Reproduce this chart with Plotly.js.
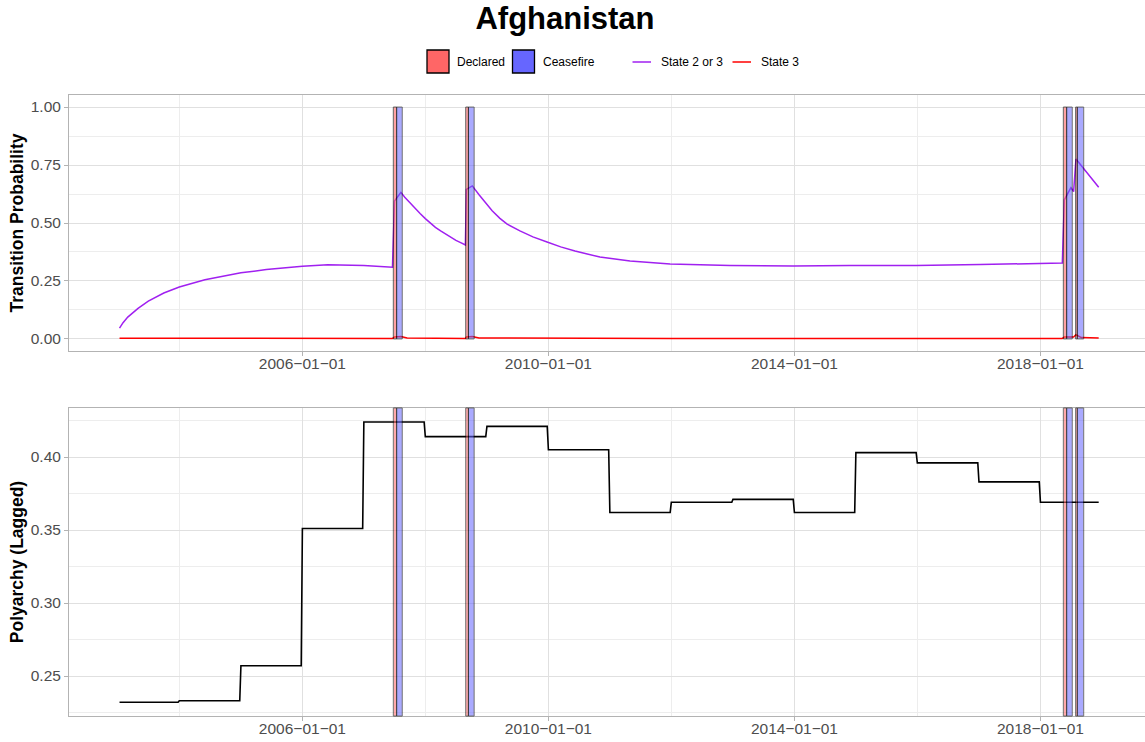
<!DOCTYPE html>
<html>
<head>
<meta charset="utf-8">
<script src="https://cdn.plot.ly/plotly-3.0.1.min.js"></script>
<style>html,body{margin:0;padding:0;background:#fff;}#chart{width:1145px;height:742px;}</style>
</head>
<body>
<div id="chart"></div>
<script>
// ---- data ----
const chartTitle = 'Afghanistan';

const stateDates = ['2003-01-11','2003-02-01','2003-03-01','2003-05-01','2003-07-01','2003-10-01','2004-01-01','2004-06-01','2005-01-01','2005-06-01','2006-01-01','2006-06-01','2007-01-01','2007-06-20',
  '2007-07-02','2007-08-09','2007-09-01','2007-10-01','2007-11-01','2007-12-01','2008-01-01','2008-02-01','2008-03-01','2008-04-01','2008-05-01','2008-06-01','2008-07-01','2008-08-01','2008-08-26',
  '2008-09-01','2008-10-06','2008-11-15','2009-01-01','2009-02-01','2009-03-19','2009-05-01','2009-07-16','2009-10-01','2009-12-24','2010-03-15','2010-06-08','2010-11-03','2011-05-01','2011-12-25',
  '2012-12-15','2013-12-25','2014-11-25','2015-12-25','2017-01-08','2017-12-25','2018-05-11','2018-05-23','2018-07-01','2018-07-17','2018-07-31','2018-12-13'];
const state23 = [0.047,0.070,0.094,0.132,0.163,0.198,0.224,0.255,0.285,0.299,0.314,0.320,0.317,0.309,
  0.595,0.632,0.611,0.587,0.563,0.541,0.519,0.499,0.481,0.466,0.452,0.438,0.425,0.414,0.405,
  0.645,0.660,0.622,0.580,0.553,0.520,0.495,0.466,0.440,0.418,0.397,0.379,0.353,0.336,0.323,
  0.317,0.315,0.317,0.317,0.321,0.325,0.327,0.600,0.652,0.635,0.776,0.654];

const state3Dates = ['2003-01-11','2006-01-01','2007-06-20','2007-07-02','2007-08-09','2007-09-15','2008-08-26','2008-09-01','2008-10-06','2008-11-15','2012-01-01','2018-05-11','2018-05-23','2018-07-17','2018-07-31','2018-09-01','2018-12-13'];
const state3 = [0.003,0.003,0.002,0.008,0.010,0.004,0.002,0.008,0.010,0.004,0.002,0.002,0.008,0.008,0.018,0.006,0.004];

const polyYears = [2003,2004,2005,2006,2007,2008,2009,2010,2011,2012,2013,2014,2015,2016,2017,2018];
const polyarchy = [0.232,0.233,0.257,0.351,0.424,0.414,0.421,0.405,0.362,0.369,0.371,0.362,0.403,0.396,0.383,0.369];
const seriesStart = '2003-01-11';
const seriesEnd = '2018-12-13';

const declaredStart = ['2007-06-25','2008-08-28','2018-05-17','2018-07-29'];
const declaredEnd   = ['2007-07-15','2008-09-13','2018-06-06','2018-08-08'];
const ceasefireStart = ['2007-07-15','2008-09-13','2018-06-06','2018-08-08'];
const ceasefireEnd   = ['2007-08-17','2008-10-17','2018-07-09','2018-09-15'];

const xTickVals = ['2006-01-01','2010-01-01','2014-01-01','2018-01-01'];
const xTickText = ['2006\u221201\u221201','2010\u221201\u221201','2014\u221201\u221201','2018\u221201\u221201'];
const xMinorVals = ['2004-01-01','2008-01-01','2012-01-01','2016-01-01'];
const yTopTicks = [0,0.25,0.5,0.75,1];
const yBotTicks = [0.25,0.30,0.35,0.40];

const legendLabels = ['Declared','Ceasefire','State 2 or 3','State 3'];

// ---- build ----
const W = 1145, H = 742;
const px = v => v / W;
const py = v => 1 - v / H;

const polyX = [], polyY = [];
polyYears.forEach((yr, i) => {
  polyX.push(i === 0 ? seriesStart : yr + '-01-01');
  polyY.push(polyarchy[i]);
  polyX.push(i === polyYears.length - 1 ? seriesEnd : yr + '-12-25');
  polyY.push(polyarchy[i]);
});

const FONT = 'Liberation Sans, Arial, sans-serif';
const DECL = '#FF6666', CEAS = '#6666FF', PURPLE = '#A020F0', RED = '#FF0000';

const traces = [
  {x: stateDates, y: state23, type: 'scatter', mode: 'lines', name: legendLabels[2],
   line: {color: PURPLE, width: 1.5}, xaxis: 'x', yaxis: 'y', showlegend: false},
  {x: state3Dates, y: state3, type: 'scatter', mode: 'lines', name: legendLabels[3],
   line: {color: RED, width: 1.5}, xaxis: 'x', yaxis: 'y', showlegend: false},
  {x: polyX, y: polyY, type: 'scatter', mode: 'lines', name: 'Polyarchy',
   line: {color: '#000000', width: 1.6}, xaxis: 'x2', yaxis: 'y2', showlegend: false}
];

const shapes = [];
function addRects(starts, ends, color, opTop) {
  starts.forEach((s, i) => {
    shapes.push({type: 'rect', xref: 'x', yref: 'y', x0: s, x1: ends[i], y0: 0, y1: 1,
      fillcolor: color, opacity: opTop, line: {color: '#000', width: 1}, layer: 'above'});
    shapes.push({type: 'rect', xref: 'x2', yref: 'y2 domain', x0: s, x1: ends[i], y0: 0, y1: 1,
      fillcolor: color, opacity: 0.55, line: {color: '#000', width: 1}, layer: 'above'});
  });
}
addRects(declaredStart, declaredEnd, DECL, 0.6);
addRects(ceasefireStart, ceasefireEnd, CEAS, 0.55);

// manual legend
shapes.push({type:'rect', xref:'paper', yref:'paper', x0:px(427), x1:px(449), y0:py(73), y1:py(50), fillcolor:DECL, line:{color:'#000', width:1.3}});
shapes.push({type:'rect', xref:'paper', yref:'paper', x0:px(512.5), x1:px(534.5), y0:py(73), y1:py(50), fillcolor:CEAS, line:{color:'#000', width:1.3}});
shapes.push({type:'line', xref:'paper', yref:'paper', x0:px(632.5), x1:px(651), y0:py(62), y1:py(62), line:{color:PURPLE, width:1.5}});
shapes.push({type:'line', xref:'paper', yref:'paper', x0:px(732.5), x1:px(751), y0:py(62), y1:py(62), line:{color:RED, width:1.5}});

const legendX = [455, 540.5, 658.5, 758.5];
const annotations = legendLabels.map((t, i) => ({
  text: t, xref: 'paper', yref: 'paper', x: px(legendX[i]), y: py(62), xanchor: 'left', yanchor: 'middle',
  showarrow: false, font: {family: FONT, size: 12, color: '#000'}
}));

const gridMajor = '#E0E0E0', gridMinor = '#EDEDED', border = '#B3B3B3';
function xAxis(anchor) {
  return {
    type: 'date', domain: [px(69), 1], anchor: anchor,
    range: ['2002-03-17', '2019-09-14'],
    tickmode: 'array', tickvals: xTickVals, ticktext: xTickText,
    ticks: 'outside', ticklen: 4, tickcolor: border, tickwidth: 1, ticklabelstandoff: -6,
    tickfont: {family: FONT, size: 15.5, color: '#4D4D4D'},
    showgrid: true, gridcolor: gridMajor, gridwidth: 1,
    minor: {tickmode: 'array', tickvals: xMinorVals, showgrid: true, gridcolor: gridMinor, gridwidth: 1, ticks: ''},
    showline: true, mirror: true, linecolor: border, linewidth: 1,
    zeroline: false, automargin: false
  };
}

const layout = {
  width: W, height: H,
  margin: {l: 0, r: 0, t: 0, b: 0},
  paper_bgcolor: '#fff', plot_bgcolor: '#fff',
  font: {family: FONT, color: '#000'},
  showlegend: false,
  title: {text: '<b>' + chartTitle + '</b>', x: px(565), xanchor: 'center', y: py(18), yanchor: 'middle',
          font: {family: FONT, size: 31, color: '#000'}},
  xaxis: xAxis('y'),
  xaxis2: xAxis('y2'),
  yaxis: {
    domain: [py(351), py(95)], anchor: 'x', range: [-0.052, 1.052],
    tickmode: 'array', tickvals: yTopTicks, tickformat: '.2f',
    ticks: 'outside', ticklen: 4, tickcolor: border,
    tickfont: {family: FONT, size: 15.5, color: '#4D4D4D'},
    showgrid: true, gridcolor: gridMajor, gridwidth: 1,
    minor: {dtick: 0.125, tick0: 0, showgrid: true, gridcolor: gridMinor, gridwidth: 1, ticks: ''},
    showline: true, mirror: true, linecolor: border, zeroline: false, automargin: false,
    title: {text: '<b>Transition Probability</b>', font: {family: FONT, size: 17.5, color: '#000'}, standoff: 2}
  },
  yaxis2: {
    domain: [py(716), py(408)], anchor: 'x2', range: [0.2226, 0.4336],
    tickmode: 'array', tickvals: yBotTicks, tickformat: '.2f',
    ticks: 'outside', ticklen: 4, tickcolor: border,
    tickfont: {family: FONT, size: 15.5, color: '#4D4D4D'},
    showgrid: true, gridcolor: gridMajor, gridwidth: 1,
    minor: {dtick: 0.025, tick0: 0, showgrid: true, gridcolor: gridMinor, gridwidth: 1, ticks: ''},
    showline: true, mirror: true, linecolor: border, zeroline: false, automargin: false,
    title: {text: '<b>Polyarchy (Lagged)</b>', font: {family: FONT, size: 17.5, color: '#000'}, standoff: 2}
  },
  shapes: shapes,
  annotations: annotations
};

Plotly.newPlot('chart', traces, layout, {displayModeBar: false, staticPlot: true});
</script>
</body>
</html>
